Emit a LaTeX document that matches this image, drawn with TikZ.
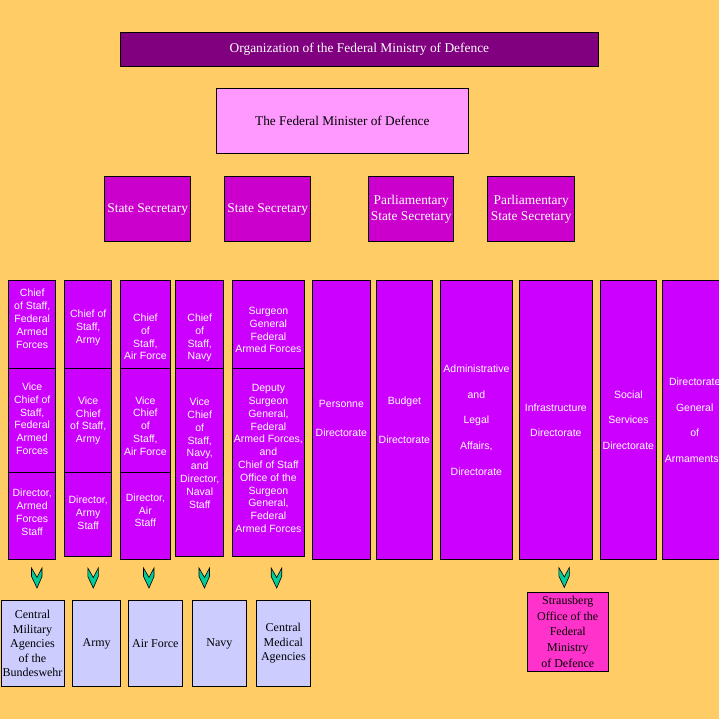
\documentclass[tikz,border=0pt]{standalone}
\usepackage{fontspec}
\setmainfont{Liberation Serif}
\setsansfont{Liberation Sans}
\definecolor{bgorange}{HTML}{FFCC66}
\definecolor{titlepurple}{HTML}{800080}
\definecolor{ministerpink}{HTML}{FF99FF}
\definecolor{secmagenta}{HTML}{CC00CC}
\definecolor{colviolet}{HTML}{CC00FF}
\definecolor{arrowgreen}{HTML}{00CC99}
\definecolor{agencyblue}{HTML}{CCCCFF}
\definecolor{officepink}{HTML}{FF33CC}
\newcommand{\topstrut}[1]{\rule{0pt}{#1}}
\newcommand{\botstrut}[1]{\rule[-#1]{0pt}{#1}}
\tikzset{
  boxbase/.style={draw=black, line width=0.8pt, inner sep=0pt, align=center, anchor=north west},
  titlebox/.style={boxbase, fill=titlepurple, text=white, font=\fontsize{13.4}{15}\selectfont},
  ministerbox/.style={boxbase, fill=ministerpink, text=black, font=\fontsize{13.3}{15}\selectfont},
  secbox/.style={boxbase, fill=secmagenta, text=white, font=\fontsize{13.4}{16}\selectfont},
  cell/.style={boxbase, fill=colviolet, text=white, font=\sffamily\fontsize{10.5}{12.8}\selectfont},
  agencybox/.style={boxbase, fill=agencyblue, text=black, font=\fontsize{12}{14.5}\selectfont},
  officebox/.style={boxbase, fill=officepink, text=black, font=\fontsize{12}{15.8}\selectfont},
  downchevron/.pic={
    \draw[fill=arrowgreen, line width=0.6pt, line join=miter]
      (-5.5,0) -- (0,9.5) -- (5,0) -- (5,8.5) -- (0,20) -- (-5.5,8.5) -- cycle;
  }
}
\begin{document}
\begin{tikzpicture}[x=1pt,y=-1pt]
\useasboundingbox[fill=bgorange] (0,0) rectangle (719,719);

% top levels
\node[titlebox, minimum width=478pt, minimum height=33.5pt] (title) at (120,32.3)
  {Organization of the Federal Ministry of Defence};
\node[ministerbox, minimum width=251.5pt, minimum height=65pt] (minister) at (216.2,88.3)
  {The Federal Minister of Defence};
\node[secbox, minimum width=86pt, minimum height=65.3pt] (ss1) at (104.3,176)
  {State Secretary};
\node[secbox, minimum width=86pt, minimum height=65.3pt] (ss2) at (224.3,176)
  {State Secretary};
\node[secbox, minimum width=85pt, minimum height=65.3pt] (pss1) at (368.3,176)
  {Parliamentary\\State Secretary};
\node[secbox, minimum width=87pt, minimum height=65.3pt] (pss2) at (487.3,176)
  {Parliamentary\\State Secretary};

% column 1
\node[cell, minimum width=47pt, minimum height=88pt] (c1a) at (8.3,280.3)
  {Chief\\of Staff,\\Federal\\Armed\\Forces\botstrut{12pt}};
\node[cell, minimum width=47pt, minimum height=104pt] (c1b) at (8.3,368.3)
  {Vice\\Chief of\\Staff,\\Federal\\Armed\\Forces\botstrut{4pt}};
\node[cell, minimum width=47pt, minimum height=87pt] (c1c) at (8.3,472.3)
  {Director,\\Armed\\Forces\\Staff\botstrut{8pt}};
% column 2
\node[cell, minimum width=47pt, minimum height=88pt] (c2a) at (64.3,280.3)
  {\topstrut{14pt}Chief of\\Staff,\\Army};
\node[cell, minimum width=47pt, minimum height=104pt] (c2b) at (64.3,368.3)
  {Vice\\Chief\\of Staff,\\Army};
\node[cell, minimum width=47pt, minimum height=83.7pt] (c2c) at (64.3,472.3)
  {Director,\\Army\\Staff\botstrut{4pt}};
% column 3
\node[cell, minimum width=49.4pt, minimum height=88pt] (c3a) at (120.3,280.3)
  {\topstrut{32pt}Chief\\of\\Staff,\\Air Force};
\node[cell, minimum width=49.4pt, minimum height=104pt] (c3b) at (120.3,368.3)
  {\topstrut{18pt}Vice\\Chief\\of\\Staff,\\Air Force};
\node[cell, minimum width=49.4pt, minimum height=87pt] (c3c) at (120.3,472.3)
  {Director,\\Air\\Staff\botstrut{12pt}};
% column 4
\node[cell, minimum width=48pt, minimum height=88pt] (c4a) at (175.3,280.3)
  {\topstrut{34pt}Chief\\of\\Staff,\\Navy};
\node[cell, minimum width=48pt, minimum height=187.7pt] (c4b) at (175.3,368.3)
  {Vice\\Chief\\of\\Staff,\\Navy,\\and\\Director,\\Naval\\Staff\botstrut{19pt}};
% column 5
\node[cell, minimum width=71.4pt, minimum height=88pt] (c5a) at (232.3,280.3)
  {\topstrut{18pt}Surgeon\\General\\Federal\\Armed Forces};
\node[cell, minimum width=71.4pt, minimum height=187.7pt] (c5b) at (232.3,368.3)
  {Deputy\\Surgeon\\General,\\Federal\\Armed Forces,\\and\\Chief of Staff\\Office of the\\Surgeon\\General,\\Federal\\Armed Forces\botstrut{8pt}};
% directorates
\node[cell, minimum width=57.4pt, minimum height=279pt] (pers) at (312.3,280.3)
  {Personne\\[16pt]Directorate\botstrut{4pt}};
\node[cell, minimum width=55.4pt, minimum height=279pt] (budget) at (376.3,280.3)
  {Budget\\[26pt]Directorate};
\node[cell, minimum width=71.4pt, minimum height=279pt, font=\sffamily\fontsize{10.5}{25.7}\selectfont] (admin) at (440.3,280.3)
  {Administrative\\and\\Legal\\Affairs,\\Directorate};
\node[cell, minimum width=72.4pt, minimum height=279pt, font=\sffamily\fontsize{10.5}{25}\selectfont] (infra) at (519.3,280.3)
  {Infrastructure\\Directorate};
\node[cell, minimum width=55.4pt, minimum height=279pt, font=\sffamily\fontsize{10.5}{25.7}\selectfont] (social) at (600.3,280.3)
  {Social\\Services\\Directorate};
\node[cell, minimum width=64pt, minimum height=279pt, font=\sffamily\fontsize{10.5}{25.8}\selectfont] (arm) at (662.3,280.3)
  {Directorate\\General\\of\\Armaments\hspace*{6pt}};

% chevrons
\pic at (37,568) {downchevron};
\pic at (93.3,568) {downchevron};
\pic at (149,568) {downchevron};
\pic at (204.5,568) {downchevron};
\pic at (276.7,568) {downchevron};
\pic at (564.3,567.5) {downchevron};

% agencies
\node[agencybox, minimum width=63.2pt, minimum height=85.4pt] (cma) at (0.5,600.3)
  {Central\\Military\\Agencies\\of the\\Bundeswehr};
\node[agencybox, minimum width=48pt, minimum height=85.4pt] (army) at (72.3,600.3)
  {Army};
\node[agencybox, minimum width=53.4pt, minimum height=85.4pt] (airforce) at (128.3,600.3)
  {Air Force};
\node[agencybox, minimum width=53.4pt, minimum height=85.4pt] (navy) at (192.3,600.3)
  {Navy};
\node[agencybox, minimum width=53.4pt, minimum height=85.4pt] (cmed) at (256.3,600.3)
  {Central\\Medical\\Agencies};
\node[officebox, minimum width=80.7pt, minimum height=79.3pt] (strausberg) at (527,591.7)
  {Strausberg\\Office of the\\Federal\\Ministry\\of Defence};
\end{tikzpicture}
\end{document}
